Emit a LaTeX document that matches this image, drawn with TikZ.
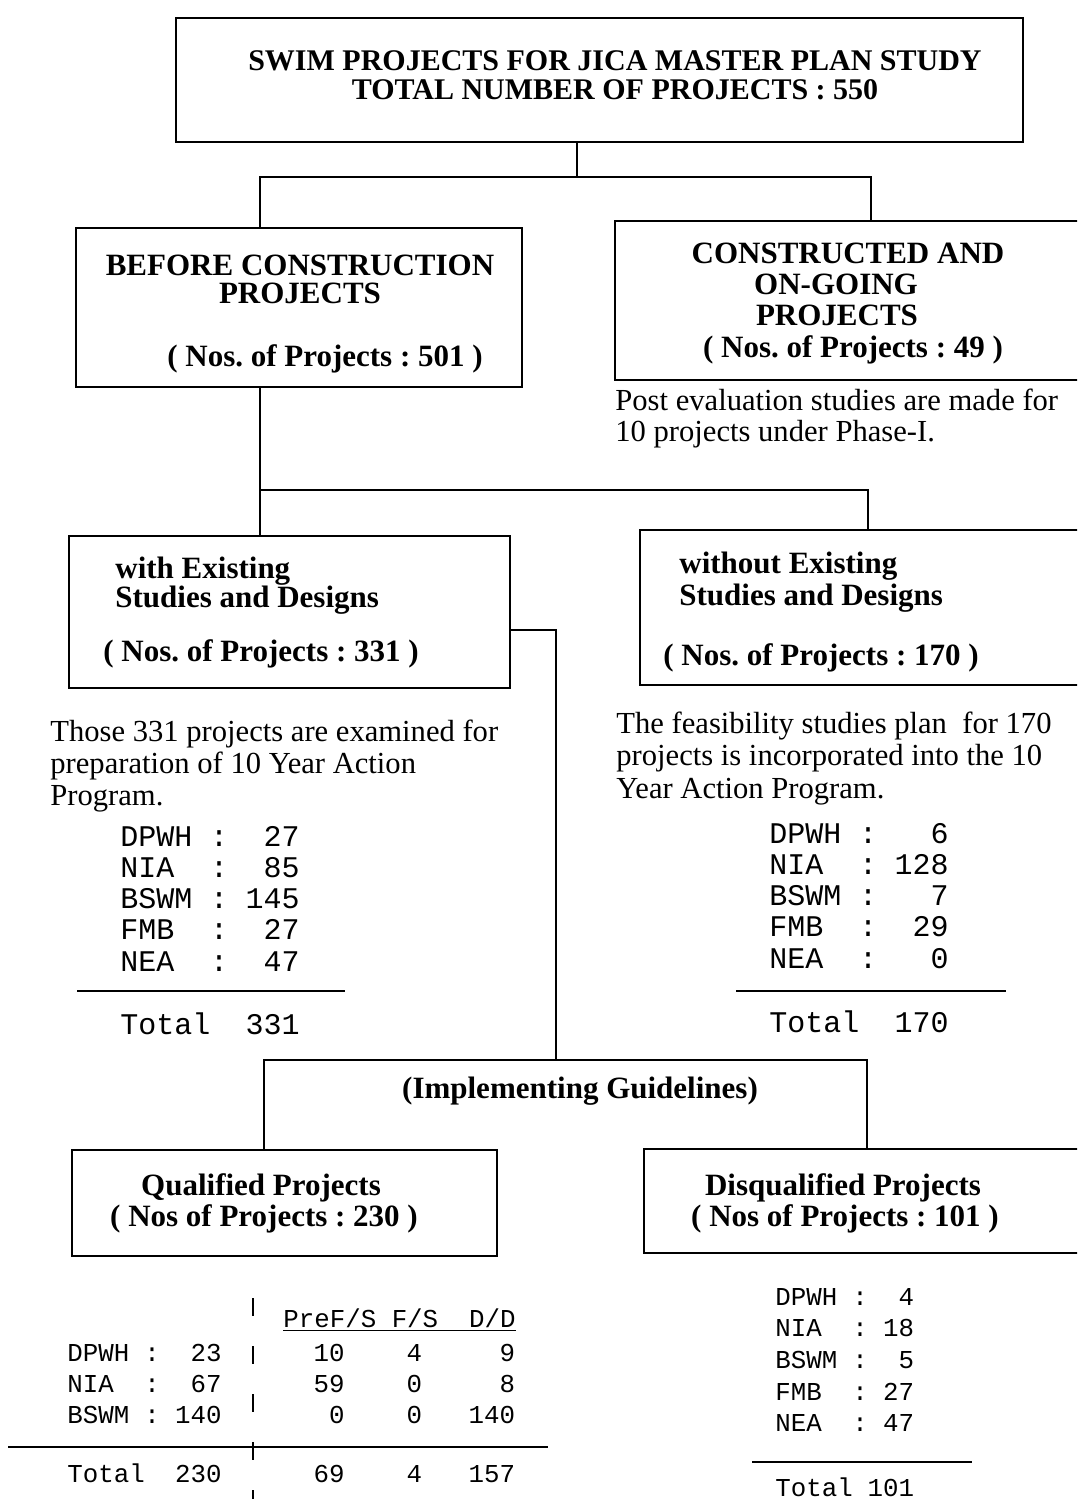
\documentclass[tikz,border=0pt]{standalone}
\usepackage{fontspec}
\setmainfont{Liberation Serif}
\setmonofont{Liberation Mono}
\usetikzlibrary{fit}
\frenchspacing

\newcommand{\boxfont}{\bfseries\fontsize{15.5}{17}\selectfont}
\newcommand{\titlefont}{\bfseries\fontsize{15}{17}\selectfont}
\newcommand{\bodyfont}{\fontsize{15.3}{17}\selectfont}
\newcommand{\tabfont}{\ttfamily\fontsize{15}{17}\selectfont}
\newcommand{\stabfont}{\ttfamily\fontsize{12.9}{15}\selectfont}

\begin{document}
\begin{tikzpicture}[x=0.5pt,y=-0.5pt,
  box/.style={draw, line width=1.2pt, inner sep=0pt},
  link/.style={line width=1pt},
  rule/.style={line width=1.3pt},
  boxtxt/.style={font=\boxfont, inner sep=0pt, anchor=base},
  boxtxtl/.style={boxtxt, anchor=base west},
  body/.style={font=\bodyfont, inner sep=0pt, anchor=base west},
  tab/.style={font=\tabfont, inner sep=0pt},
  stab/.style={font=\stabfont, inner sep=0pt}]
\useasboundingbox (0,0) rectangle (1077,1499);
\fill[white] (0,0) rectangle (1077,1499);
\clip (0,0) rectangle (1077,1499);

\node[box, fit={(176,18) (1023,142)}] (top) {};
\node[box, fit={(76,228) (522,387)}] (before) {};
\node[box, fit={(615,221) (1100,380)}] (constr) {};
\node[box, fit={(69,536) (510,688)}] (with) {};
\node[box, fit={(640,530) (1100,685)}] (without) {};
\node[box, fit={(72,1150) (497,1256)}] (qual) {};
\node[box, fit={(644,1149) (1100,1253)}] (disq) {};

\node[boxtxt, font=\titlefont] (title1) at (615,70) {SWIM PROJECTS FOR JICA MASTER PLAN STUDY};
\node[boxtxt, font=\titlefont] (title2) at (615,99) {TOTAL NUMBER OF PROJECTS : 550};

\node[boxtxt] (bef1) at (300,275) {BEFORE CONSTRUCTION};
\node[boxtxt] (bef2) at (300,303) {PROJECTS};
\node[boxtxt] (bef3) at (325,366) {( Nos. of Projects : 501 )};

\node[boxtxt] (con1) at (848,263) {CONSTRUCTED AND};
\node[boxtxt] (con2) at (836,294) {ON-GOING};
\node[boxtxt] (con3) at (837,325) {PROJECTS};
\node[boxtxt] (con4) at (853,357) {( Nos. of Projects : 49 )};
\node[body] (post1) at (615,410) {Post evaluation studies are made for};
\node[body] (post2) at (615,441) {10 projects under Phase-I.};

\node[boxtxtl] (with1) at (115,578) {with Existing};
\node[boxtxtl] (with2) at (115,607) {Studies and Designs};
\node[boxtxtl] (with3) at (103,661) {( Nos. of Projects : 331 )};

\node[boxtxtl] (wo1) at (679,573) {without Existing};
\node[boxtxtl] (wo2) at (679,605) {Studies and Designs};
\node[boxtxtl] (wo3) at (663,665) {( Nos. of Projects : 170 )};

\node[body] (those1) at (50,741) {Those 331 projects are examined for};
\node[body] (those2) at (50,773) {preparation of 10 Year Action};
\node[body] (those3) at (50,805) {Program.};

\node[body] (feas1) at (616,733) {The feasibility studies plan\ \ for 170};
\node[body] (feas2) at (616,765) {projects is incorporated into the 10};
\node[body] (feas3) at (616,798) {Year Action Program.};

\foreach \lbl/\num [count=\i from 0] in {DPWH/27,NIA/85,BSWM/145,FMB/27,NEA/47}{
  \node[tab, anchor=base west] (wl\i) at (120,846+31.3*\i) {\lbl};
  \node[tab, anchor=base] (wc\i) at (219,846+31.3*\i) {:};
  \node[tab, anchor=base east] (wn\i) at (300,846+31.3*\i) {\num};
}
\draw[rule] (77,991) -- (345,991);
\node[tab, anchor=base west] (wtot) at (120,1034) {Total};
\node[tab, anchor=base east] (wtotn) at (300,1034) {331};

\foreach \lbl/\num [count=\i from 0] in {DPWH/6,NIA/128,BSWM/7,FMB/29,NEA/0}{
  \node[tab, anchor=base west] (ol\i) at (769,843+31.3*\i) {\lbl};
  \node[tab, anchor=base] (oc\i) at (868,843+31.3*\i) {:};
  \node[tab, anchor=base east] (on\i) at (949,843+31.3*\i) {\num};
}
\draw[rule] (736,991) -- (1006,991);
\node[tab, anchor=base west] (otot) at (769,1032) {Total};
\node[tab, anchor=base east] (ototn) at (949,1032) {170};

\node[boxtxt] (impl) at (580,1098) {(Implementing Guidelines)};

\node[boxtxt] (qual1) at (261,1195) {Qualified Projects};
\node[boxtxt] (qual2) at (264,1226) {( Nos of Projects : 230 )};
\node[boxtxt] (disq1) at (843,1195) {Disqualified Projects};
\node[boxtxt] (disq2) at (845,1226) {( Nos of Projects : 101 )};

\node[stab, anchor=base west] (qhead) at (283,1327) {\underline{PreF/S F/S~~D/D}};
\foreach \lbl/\num/\pre/\fs/\dd [count=\i from 0] in {DPWH/23/10/4/9,NIA/67/59/0/8,BSWM/140/0/0/140}{
  \node[stab, anchor=base west] (ql\i) at (67,1361+31*\i) {\lbl};
  \node[stab, anchor=base] (qc\i) at (152,1361+31*\i) {:};
  \node[stab, anchor=base east] (qn\i) at (222,1361+31*\i) {\num};
  \node[stab, anchor=base east] (qp\i) at (345,1361+31*\i) {\pre};
  \node[stab, anchor=base east] (qf\i) at (422.5,1361+31*\i) {\fs};
  \node[stab, anchor=base east] (qd\i) at (515.5,1361+31*\i) {\dd};
}
\draw[rule] (8,1447) -- (548,1447);
\draw[line width=1.2pt, dash pattern=on 9pt off 15pt] (253,1298) -- (253,1510);
\node[stab, anchor=base west] (qtot) at (67,1482) {Total};
\node[stab, anchor=base east] (qtotn) at (222,1482) {230};
\node[stab, anchor=base east] (qtotp) at (345,1482) {69};
\node[stab, anchor=base east] (qtotf) at (422.5,1482) {4};
\node[stab, anchor=base east] (qtotd) at (515.5,1482) {157};

\foreach \lbl/\num [count=\i from 0] in {DPWH/4,NIA/18,BSWM/5,FMB/27,NEA/47}{
  \node[stab, anchor=base west] (dl\i) at (775,1305+31.7*\i) {\lbl};
  \node[stab, anchor=base] (dc\i) at (860,1305+31.7*\i) {:};
  \node[stab, anchor=base east] (dn\i) at (914.5,1305+31.7*\i) {\num};
}
\draw[rule] (752,1462) -- (972,1462);
\node[stab, anchor=base west] (dtot) at (775,1496) {Total};
\node[stab, anchor=base east] (dtotn) at (914.5,1496) {101};

\coordinate (ja) at (577,177);
\coordinate (jal) at (260,177);
\coordinate (jar) at (871,177);
\draw[link] (top.south -| ja) -- (ja);
\draw[link] (before.north -| jal) -- (jal) -- (jar) -- (constr.north -| jar);
\coordinate (jb) at (260,490);
\coordinate (jbr) at (868,490);
\draw[link] (before.south -| jb) -- (with.north -| jb);
\draw[link] (jb) -- (jbr) -- (without.north -| jbr);
\coordinate (jc) at (556,630);
\coordinate (jd) at (556,1060);
\draw[link] (with.east |- jc) -- (jc) -- (jd);
\coordinate (il) at (264,1060);
\coordinate (ir) at (867,1060);
\draw[link] (qual.north -| il) -- (il) -- (ir) -- (disq.north -| ir);
\end{tikzpicture}
\end{document}
